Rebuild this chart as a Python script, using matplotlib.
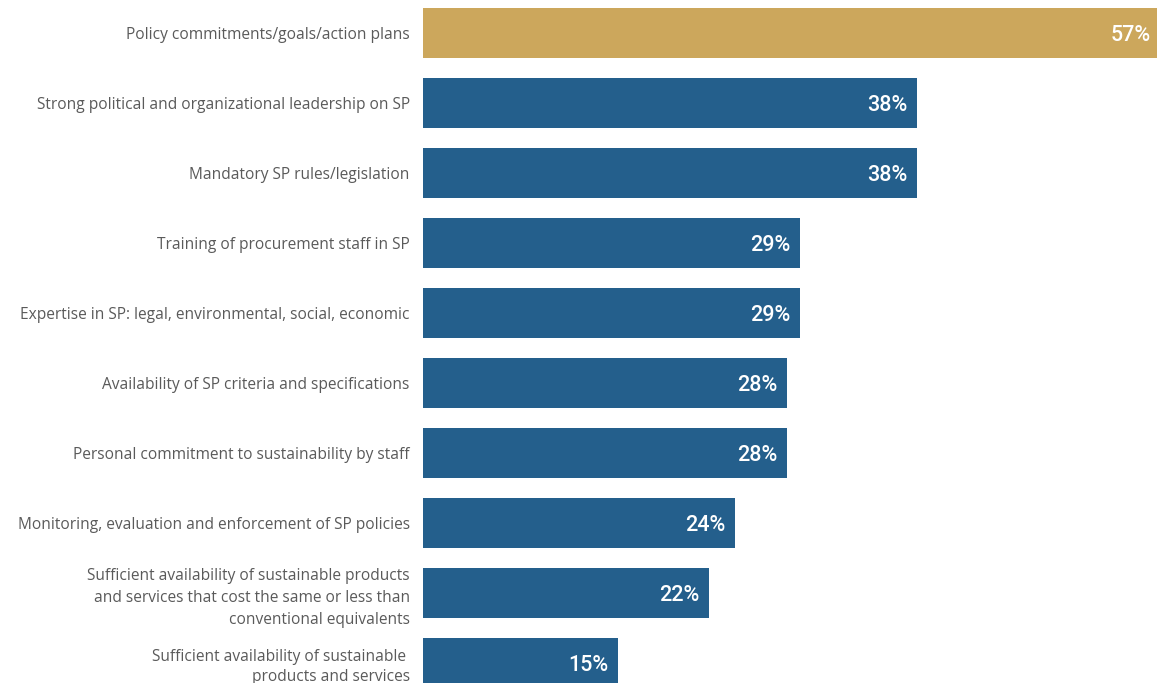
import matplotlib
matplotlib.use("Agg")
from matplotlib import pyplot as plt

categories = [
    "Policy commitments/goals/action plans",
    "Strong political and organizational leadership on SP",
    "Mandatory SP rules/legislation",
    "Training of procurement staff in SP",
    "Expertise in SP: legal, environmental, social, economic",
    "Availability of SP criteria and specifications",
    "Personal commitment to sustainability by staff",
    "Monitoring, evaluation and enforcement of SP policies",
    "Sufficient availability of sustainable products\nand services that cost the same or less than\nconventional equivalents",
    "Sufficient availability of sustainable \nproducts and services",
]
values = [57, 38, 38, 29, 29, 28, 28, 24, 22, 15]
value_labels = ["57%", "38%", "38%", "29%", "29%", "28%", "28%", "24%", "22%", "15%"]

gold = "#CCA75C"
blue = "#245F8C"
colors = [gold] + [blue] * (len(values) - 1)

W, H = 1157, 683
XMAX = 56.46
fig = plt.figure(figsize=(W / 100, H / 100), dpi=100)
ax = fig.add_axes([423 / W, 0, 1 - 423 / W, 1])

pos = list(range(len(values)))
ax.barh(pos, values, height=50 / 70, color=colors)
ax.set_xlim(0, XMAX)
ax.set_ylim((683 - 33) / 70, -33 / 70)

ax.set_yticks(pos)
ticklabs = ax.set_yticklabels(categories, fontsize=11.2, color="#5a5a5a",
                              family=["Open Sans", "DejaVu Sans"], linespacing=1.5)
# last label sits against the bottom edge, keep it tighter
ticklabs[-1].set_linespacing(1.3)
ax.tick_params(axis="y", length=0, pad=9.5)
ax.set_xticks([])
for s in ax.spines.values():
    s.set_visible(False)

for p, v, lab in zip(pos, values, value_labels):
    x = min(v, XMAX + 0.3)
    ax.annotate(lab, (x, p), xytext=(-7, -1.5), textcoords="offset points",
                ha="right", va="center", color="white", fontsize=15.5,
                family=["Roboto", "DejaVu Sans"], fontweight="medium",
                annotation_clip=False)

fig.savefig("out.png", dpi=100)
